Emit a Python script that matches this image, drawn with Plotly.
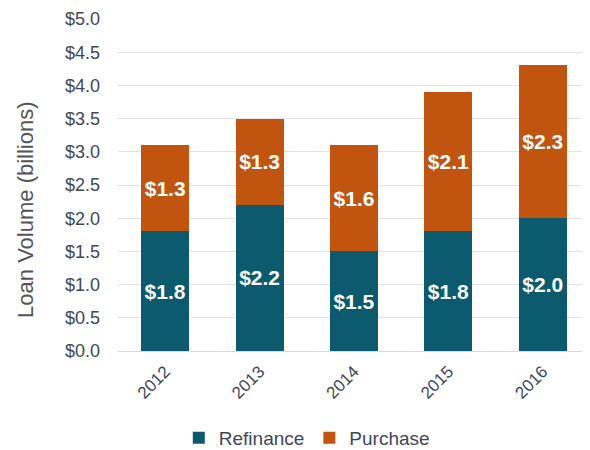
import plotly.graph_objects as go

years = ["2012", "2013", "2014", "2015", "2016"]
refinance = [1.8, 2.2, 1.5, 1.8, 2.0]
purchase = [1.3, 1.3, 1.6, 2.1, 2.3]
y_ticks = [0, 0.5, 1.0, 1.5, 2.0, 2.5, 3.0, 3.5, 4.0, 4.5, 5.0]

teal = "#0B5A6E"
orange = "#C1540F"
axis_col = "#404858"

fig = go.Figure()
for name, vals, col in [("Refinance", refinance, teal), ("Purchase", purchase, orange)]:
    fig.add_trace(go.Bar(
        x=years, y=vals, name=name, marker=dict(color=col, line=dict(width=0)),
        text=[f"${v:.1f}" for v in vals], textposition="inside",
        insidetextanchor="middle", textangle=0,
        textfont=dict(family="Liberation Sans", size=21, color="white", weight="bold"),
    ))

fig.update_layout(
    barmode="stack", bargap=0.49,
    width=590, height=450,
    margin=dict(l=110, r=8, t=11, b=107, autoexpand=False),
    plot_bgcolor="white", paper_bgcolor="white",
    font=dict(family="Liberation Sans", color=axis_col),
    uniformtext=dict(mode=False),
    legend=dict(orientation="h", x=0.40, xanchor="center", y=-0.262, yanchor="middle",
                font=dict(size=19, color=axis_col), itemwidth=30, traceorder="normal"),
    xaxis=dict(tickangle=-45, tickfont=dict(size=17, color=axis_col), showline=True,
               linecolor="#D9D9D9", ticks="", ticklabelstandoff=3),
    yaxis=dict(range=[0, 5.0], tickvals=y_ticks, tickformat="$.1f",
               tickfont=dict(size=18, color=axis_col), gridcolor="#E3E3E3",
               zeroline=False, ticks="", ticklabelstandoff=17),
    annotations=[dict(text="Loan Volume (billions)", textangle=-90, xref="paper", yref="paper",
                      x=(18 - 110) / 472, y=0.425, xanchor="center", yanchor="middle",
                      showarrow=False, font=dict(size=22, color="#555555"))],
)
fig.write_html("out.html")
